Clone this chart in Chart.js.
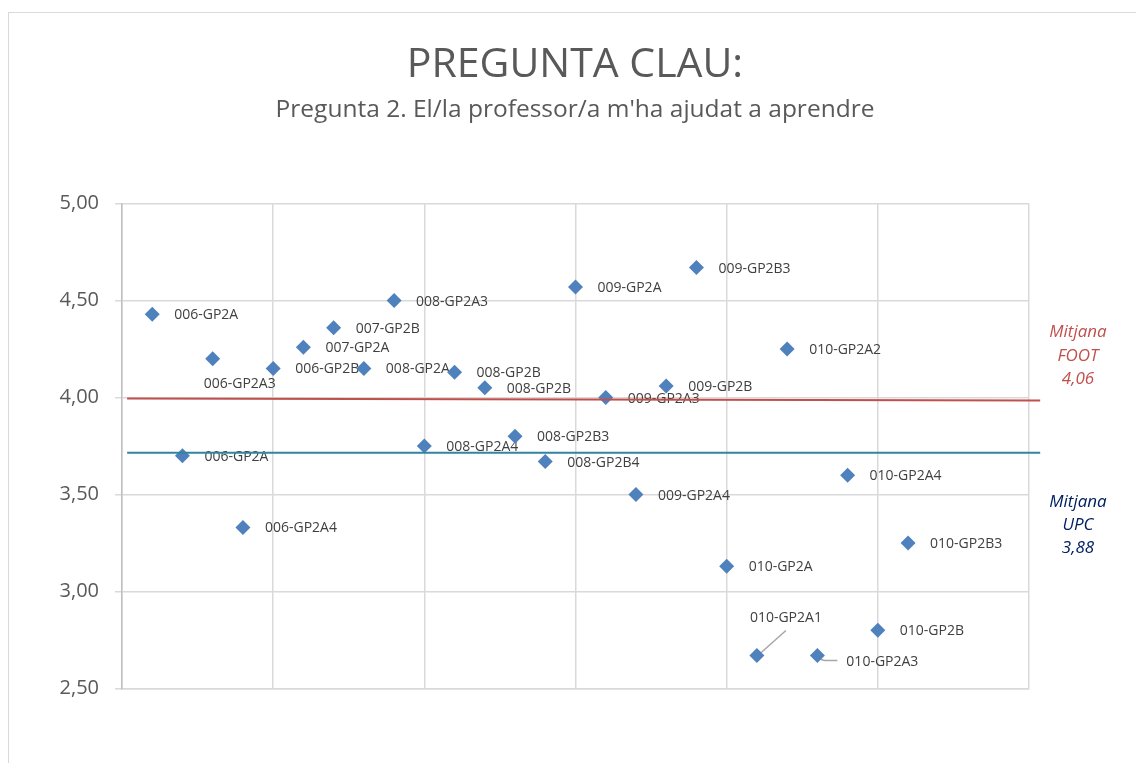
<!DOCTYPE html>
<html>
<head>
<meta charset="utf-8">
<script src="https://cdn.jsdelivr.net/npm/chart.js@4.4.1/dist/chart.umd.min.js"></script>
<style>
  html, body { margin: 0; padding: 0; background: #ffffff; }
  #wrap { position: relative; width: 1136px; height: 763px; overflow: hidden; }
  #frame { position: absolute; left: 8px; top: 12px; width: 1200px; height: 800px; border: 1.5px solid #d9d9d9; box-sizing: border-box; }
  canvas { position: absolute; left: 0; top: 0; }
</style>
</head>
<body>
<div id="wrap">
  <div id="frame"></div>
  <canvas id="c" width="1136" height="763"></canvas>
</div>
<script>
// ---- data ----
const groups = ['006-GP2A','006-GP2A','006-GP2A3','006-GP2A4','006-GP2B','007-GP2A','007-GP2B','008-GP2A','008-GP2A3','008-GP2A4','008-GP2B','008-GP2B','008-GP2B3','008-GP2B4','009-GP2A','009-GP2A3','009-GP2A4','009-GP2B','009-GP2B3','010-GP2A','010-GP2A1','010-GP2A2','010-GP2A3','010-GP2A4','010-GP2B','010-GP2B3'];
const positions = [1,2,3,4,5,6,7,8,9,10,11,12,13,14,15,16,17,18,19,20,21,22,23,24,25,26];
const scores = [4.43,3.70,4.20,3.33,4.15,4.26,4.36,4.15,4.50,3.75,4.13,4.05,3.80,3.67,4.57,4.00,3.50,4.06,4.67,3.13,2.67,4.25,2.67,3.60,2.80,3.25];
const footLineX = [0.17, 30.37];
const footLineY = [3.995, 3.985];
const upcLineX = [0.17, 30.37];
const upcLineY = [3.715, 3.715];
const footLabel = ['Mitjana', 'FOOT', '4,06'];
const upcLabel = ['Mitjana', 'UPC', '3,88'];
const yTicks = [2.5, 3.0, 3.5, 4.0, 4.5, 5.0];
const titleText = 'PREGUNTA CLAU:';
const subtitleText = "Pregunta 2. El/la professor/a m'ha ajudat a aprendre";

const FONT = "'Open Sans', 'Noto Sans', sans-serif";

// label placement overrides (pixel offsets), by point index
const labelPlacement = {
  2:  { dx: 27, dy: 25, align: 'center' },
  20: { dx: 29, dy: -38, align: 'center', leader: 'up' },
  22: { dx: 29, dy: 6, align: 'left', leader: 'right' }
};

const labelPlugin = {
  id: 'pointLabels',
  beforeDatasetsDraw(chart) {
    const ctx = chart.ctx;
    const meta = chart.getDatasetMeta(2);
    ctx.save();
    ctx.font = '14px ' + FONT;
    ctx.fillStyle = '#404040';
    ctx.textBaseline = 'middle';
    meta.data.forEach((pt, i) => {
      const p = labelPlacement[i];
      let x, y, align;
      if (p) { x = pt.x + p.dx; y = pt.y + p.dy; align = p.align; }
      else { x = pt.x + 22; y = pt.y + 1; align = 'left'; }
      ctx.textAlign = align;
      ctx.fillText(groups[i], x, y);
      if (p && p.leader) {
        ctx.save();
        ctx.strokeStyle = '#a6a6a6';
        ctx.lineWidth = 1.5;
        ctx.beginPath();
        if (p.leader === 'up') {
          ctx.moveTo(x, y + 13);
          ctx.lineTo(pt.x + 1, pt.y);
        } else {
          ctx.moveTo(pt.x + 1, pt.y + 1);
          ctx.quadraticCurveTo(pt.x + 4, pt.y + 5, pt.x + 8, pt.y + 5);
          ctx.lineTo(x - 9, pt.y + 5);
        }
        ctx.stroke();
        ctx.restore();
      }
    });
    ctx.restore();
  },
  afterDraw(chart) {
    const ctx = chart.ctx;
    const ys = chart.scales.y;
    ctx.save();
    ctx.font = 'italic 17px ' + FONT;
    ctx.textAlign = 'center';
    ctx.textBaseline = 'middle';
    ctx.fillStyle = '#c0504d';
    const fy = ys.getPixelForValue(footLineY[1]);
    footLabel.forEach((t, k) => ctx.fillText(t, 1078, fy - 68 + k * 23.5));
    ctx.fillStyle = '#002060';
    const uy = ys.getPixelForValue(upcLineY[1]);
    upcLabel.forEach((t, k) => ctx.fillText(t, 1078, uy + 49 + k * 23));
    ctx.restore();
  }
};

new Chart(document.getElementById('c'), {
  type: 'scatter',
  data: {
    datasets: [
      {
        label: 'Mitjana FOOT',
        data: footLineX.map((x, i) => ({ x, y: footLineY[i] })),
        showLine: true, borderColor: '#c0504d', borderWidth: 2, pointRadius: 0, clip: false
      },
      {
        label: 'Mitjana UPC',
        data: upcLineX.map((x, i) => ({ x, y: upcLineY[i] })),
        showLine: true, borderColor: '#31859c', borderWidth: 2, pointRadius: 0, clip: false
      },
      {
        label: 'Grups',
        data: positions.map((x, i) => ({ x, y: scores[i] })),
        pointStyle: 'rectRot', pointRadius: 7.5, pointHoverRadius: 7.5,
        backgroundColor: '#4f81bd', borderColor: '#4f81bd', borderWidth: 0
      }
    ]
  },
  options: {
    responsive: false,
    animation: false,
    events: [],
    layout: { padding: { left: 14, right: 0, top: 0, bottom: 74.5 } },
    plugins: {
      legend: { display: false },
      tooltip: { enabled: false },
      title: {
        display: true, text: titleText, color: '#595959',
        font: { family: FONT, size: 41, weight: 'normal', lineHeight: 1.2 },
        padding: { top: 41, bottom: 5 }
      },
      subtitle: {
        display: true, text: subtitleText, color: '#595959',
        font: { family: FONT, size: 24.5, weight: 'normal', lineHeight: 1.2 },
        padding: { top: 0, bottom: 79 }
      }
    },
    scales: {
      x: {
        type: 'linear', min: 0, max: 30,
        ticks: { display: false, stepSize: 5 },
        grid: { color: '#d9d9d9', lineWidth: 1.5, drawTicks: false },
        border: { color: '#d9d9d9', width: 1.5 }
      },
      y: {
        type: 'linear', min: 2.5, max: 5,
        afterBuildTicks(scale) { scale.ticks = yTicks.map(v => ({ value: v })); },
        afterFit(scale) { scale.width = 108; },
        ticks: {
          color: '#595959', padding: 16,
          font: { family: FONT, size: 20 },
          callback: v => Number(v).toFixed(2).replace('.', ',')
        },
        grid: { color: '#d9d9d9', lineWidth: 1.5, tickLength: 7 },
        border: { color: '#bfbfbf', width: 1.5 }
      },
      yRight: {
        type: 'linear', position: 'right', min: 2.5, max: 5,
        ticks: { display: false },
        grid: { display: false, drawTicks: false },
        border: { display: false },
        afterFit(scale) { scale.width = 107; }
      }
    }
  },
  plugins: [labelPlugin]
});
</script>
</body>
</html>
